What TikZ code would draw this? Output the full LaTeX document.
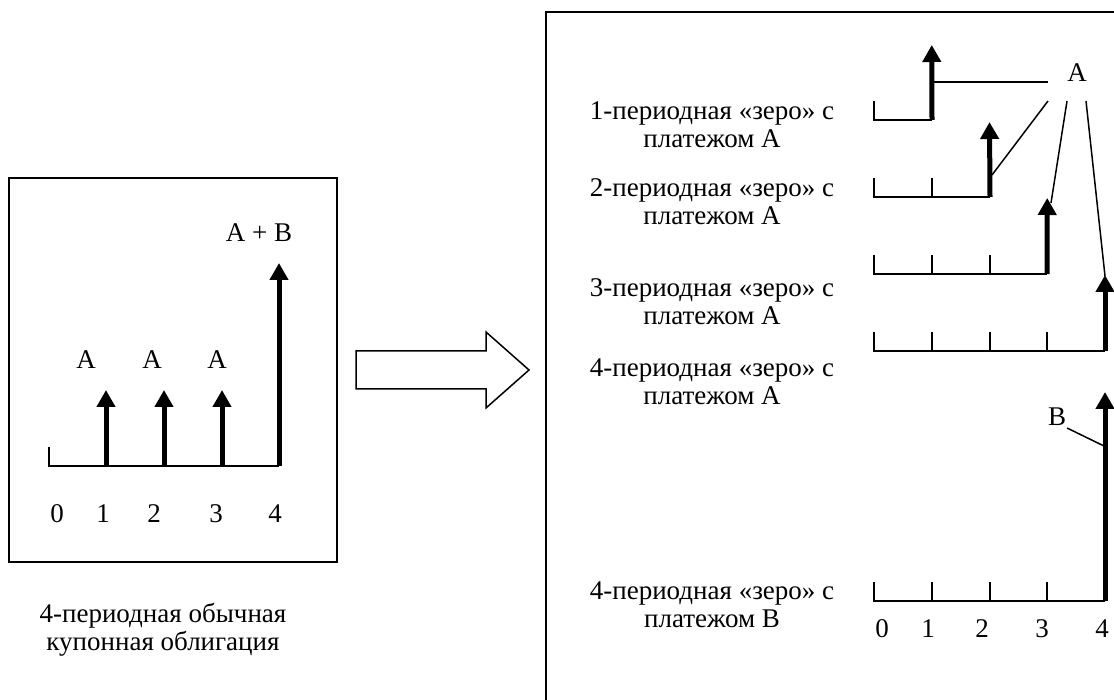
\documentclass[tikz,border=0pt]{standalone}
\usepackage{fontspec}
\setmainfont{Liberation Serif}
\usetikzlibrary{arrows.meta}
\begin{document}
\begin{tikzpicture}[x=1pt,y=-1pt,
  txt/.style={font=\fontsize{27}{28}\selectfont, inner sep=0pt, anchor=base},
  frame/.style={line width=2pt},
  axisline/.style={line width=2pt, line join=miter},
  tickline/.style={line width=2pt},
  flow/.style={line width=5pt, -{Triangle[width=18pt,length=17pt]}},
  leader/.style={line width=1.5pt},
  hollow/.style={line width=1.5pt, line join=miter, fill=white}]
\useasboundingbox (0,0) rectangle (1114,700);
\clip (0,0) rectangle (1114,700);

% ---------- left panel: ordinary coupon bond ----------
\draw[frame] (9,178) rectangle (337,562);
\foreach \i/\x in {0/49,1/106,2/164,3/222,4/279}
  \coordinate (L\i) at (\x,466);
\draw[axisline] (49,447) -- (L0) -- (L4);
\foreach \i/\x in {1/106,2/164,3/222}
  \coordinate (LT\i) at (\x,390);
\coordinate (LT4) at (279,263);
\foreach \i in {1,...,4}
  \draw[flow] (L\i) -- (LT\i);
\node[txt] (la1) at (86,369) {A};
\node[txt] (la2) at (152,369) {A};
\node[txt] (la3) at (217,369) {A};
\node[txt] (lab) at (259,242) {A + B};
\foreach \n/\x in {0/57,1/103,2/154,3/216,4/275}
  \node[txt] (ln\n) at (\x,522) {\n};
% two-line captions are anchored at the baseline of their last line
\node[txt, align=center] (cap) at (163,650) {4-периодная обычная\\купонная облигация};

% ---------- block arrow ----------
\draw[hollow] (356,351) -- (486,351) -- (486,332) -- (529,370)
  -- (486,408) -- (486,389) -- (356,389) -- cycle;

% ---------- right panel: zero-coupon parts ----------
\draw[frame] (1130,12) -- (546,12) -- (546,710);

% rows: number/axis y/last period/tip y
\foreach \r/\y/\n/\t in {1/120/1/45, 2/197/2/122, 3/274/3/198, 4/351/4/275, 5/601/4/392}{
  \foreach \k/\x in {0/874,1/932,2/990,3/1047,4/1105}
    \coordinate (R\r-\k) at (\x,\y);
  \coordinate (RT\r) at ({874+(\n)*57.75},\t);
  \draw[axisline] (874,{\y-19}) -- (R\r-0) -- (R\r-\n);
  \pgfmathtruncatemacro{\last}{\n-1}
  \ifnum\last>0
    \foreach \k in {1,...,\last}
      \draw[tickline] (R\r-\k) -- ++(0,-19);
  \fi
  \draw[flow] (R\r-\n) -- (RT\r);
}

% payment labels and their leaders
\node[txt] (pa) at (1077,82) {A};
\coordinate (pa1) at (1048,82);
\coordinate (pa2) at (1048,101);
\coordinate (pa3) at (1067,101);
\coordinate (pa4) at (1086,101);
\coordinate (h1) at (934,82);
\coordinate (h2) at (992,175);
\coordinate (h3) at (1051,203);
\coordinate (h4) at (1105,276);
\foreach \i in {1,...,4}
  \draw[leader] (pa\i) -- (h\i);
\node[txt] (pb) at (1057,426) {B};
\coordinate (pb1) at (1067,428);
\coordinate (hb) at (1104,446);
\draw[leader] (pb1) -- (hb);

\foreach \n/\x in {0/882,1/928,2/982,3/1042,4/1102}
  \node[txt] (rn\n) at (\x,637) {\n};

% row captions
\node[txt, align=center] (d1) at (712,148) {1-периодная «зеро» с\\платежом А};
\node[txt, align=center] (d2) at (712,225) {2-периодная «зеро» с\\платежом А};
\node[txt, align=center] (d3) at (712,325) {3-периодная «зеро» с\\платежом А};
\node[txt, align=center] (d4) at (712,405) {4-периодная «зеро» с\\платежом А};
\node[txt, align=center] (d5) at (712,627) {4-периодная «зеро» с\\платежом В};
\end{tikzpicture}
\end{document}
